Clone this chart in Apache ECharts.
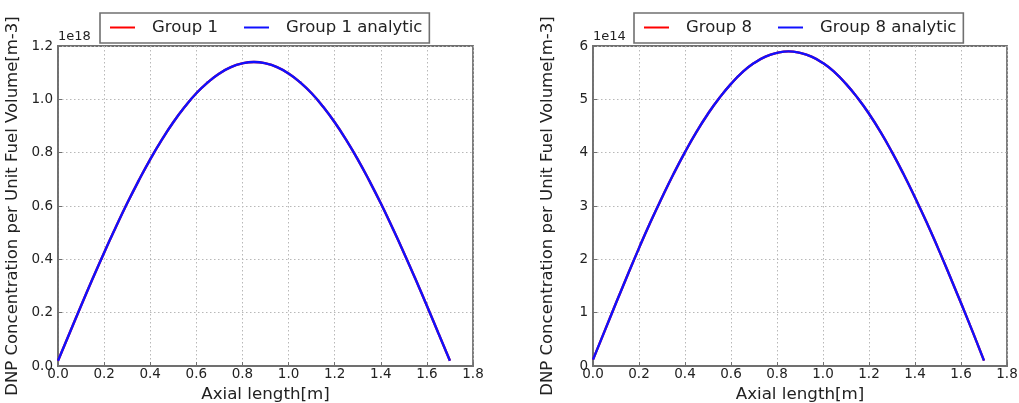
<!DOCTYPE html>
<html>
<head>
<meta charset="utf-8">
<script src="https://cdn.jsdelivr.net/npm/echarts@6/dist/echarts.min.js"></script>
<style>
  html, body { margin: 0; padding: 0; background: #fff; }
  #chart { width: 1019px; height: 403px; }
</style>
</head>
<body>
<div id="chart"></div>
<script>
// Axial positions along the fuel channel [m]
const axialPos = [0.00, 0.05, 0.10, 0.15, 0.20, 0.25, 0.30, 0.35, 0.40, 0.45, 0.50, 0.55,
  0.60, 0.65, 0.70, 0.75, 0.80, 0.85, 0.90, 0.95, 1.00, 1.05, 1.10, 1.15, 1.20, 1.25,
  1.30, 1.35, 1.40, 1.45, 1.50, 1.55, 1.60, 1.65, 1.70];

// Group 1 precursor concentration, units of 1e18 m^-3
const group1 = [0.020, 0.123, 0.226, 0.327, 0.425, 0.519, 0.610, 0.695, 0.775, 0.848, 0.914, 0.972,
  1.023, 1.064, 1.097, 1.121, 1.135, 1.140, 1.135, 1.121, 1.097, 1.064, 1.023, 0.972, 0.914, 0.848,
  0.775, 0.695, 0.610, 0.519, 0.425, 0.327, 0.226, 0.123, 0.020];
const group1Analytic = group1.slice();

// Group 8 precursor concentration, units of 1e14 m^-3
const group8 = [0.12, 0.65, 1.18, 1.70, 2.21, 2.70, 3.16, 3.60, 4.01, 4.39, 4.73, 5.03,
  5.29, 5.51, 5.68, 5.80, 5.87, 5.90, 5.87, 5.80, 5.68, 5.51, 5.29, 5.03, 4.73, 4.39,
  4.01, 3.60, 3.16, 2.70, 2.21, 1.70, 1.18, 0.65, 0.10];
const group8Analytic = group8.slice();

const xTicks = [0.0, 0.2, 0.4, 0.6, 0.8, 1.0, 1.2, 1.4, 1.6, 1.8];

const FONT = 'DejaVu Sans';
const TXT = '#222222';
const FRAME = '#707070';
const GRIDLINE = '#b8b8b8';

const pairs = (xs, ys) => xs.map((x, i) => [x, ys[i]]);

function xAxisFor(gi) {
  return {
    gridIndex: gi, type: 'value', min: 0, max: 1.8, interval: 0.2,
    name: 'Axial length[m]', nameLocation: 'middle', nameGap: 15,
    nameTextStyle: { fontFamily: FONT, fontSize: 16.7, color: TXT },
    axisLine: { show: true, lineStyle: { color: FRAME, width: 1.8 } },
    axisTick: { show: true, inside: true, length: 4, lineStyle: { color: FRAME } },
    axisLabel: { fontFamily: FONT, fontSize: 13.5, color: TXT, margin: 1,
      formatter: v => v.toFixed(1) },
    splitLine: { show: true, lineStyle: { color: GRIDLINE, type: [1.5, 2.5], width: 1 } }
  };
}

function yAxisFor(gi, max, interval, fmt) {
  return {
    gridIndex: gi, type: 'value', min: 0, max: max, interval: interval,
    name: 'DNP Concentration per Unit Fuel Volume[m-3]', nameLocation: 'middle', nameGap: 37,
    nameRotate: 90,
    nameTextStyle: { fontFamily: FONT, fontSize: 16.5, color: TXT },
    axisLine: { show: true, lineStyle: { color: FRAME, width: 1.8 } },
    axisTick: { show: true, inside: true, length: 4, lineStyle: { color: FRAME } },
    axisLabel: { fontFamily: FONT, fontSize: 13.5, color: TXT, margin: 5, formatter: fmt },
    splitLine: { show: true, lineStyle: { color: GRIDLINE, type: [1.5, 2.5], width: 1 } }
  };
}

function lineSeries(name, gi, data, color, z) {
  return {
    name: name, type: 'line', xAxisIndex: gi, yAxisIndex: gi,
    data: data, showSymbol: false, symbol: 'none', smooth: true, z: z,
    lineStyle: { color: color, width: 2.4 }, itemStyle: { color: color }
  };
}

function legendFor(names, left) {
  return {
    data: names, left: left, top: 13, width: 380,
    orient: 'horizontal', icon: 'rect', itemWidth: 25, itemHeight: 2, itemGap: 26,
    padding: [6, 7, 7, 10],
    borderColor: '#707070', borderWidth: 1.6, borderRadius: 0,
    textStyle: { fontFamily: FONT, fontSize: 16.5, color: TXT, padding: [0, 0, 0, 12] }
  };
}

const chart = echarts.init(document.getElementById('chart'), null, { renderer: 'canvas' });
chart.setOption({
  backgroundColor: '#ffffff',
  animation: false,
  grid: [
    { left: 58, top: 46, width: 415, height: 320, outerBoundsMode: 'none', containLabel: false,
      show: true, borderColor: FRAME, borderWidth: 1.8 },
    { left: 593, top: 46, width: 414, height: 320, outerBoundsMode: 'none', containLabel: false,
      show: true, borderColor: FRAME, borderWidth: 1.8 }
  ],
  legend: [
    legendFor(['Group 1', 'Group 1 analytic'], 100),
    legendFor(['Group 8', 'Group 8 analytic'], 634)
  ],
  xAxis: [xAxisFor(0), xAxisFor(1)],
  yAxis: [
    yAxisFor(0, 1.2, 0.2, v => v.toFixed(1)),
    yAxisFor(1, 6, 1, v => String(Math.round(v)))
  ],
  graphic: [
    { type: 'text', left: 58, top: 30, style: { text: '1e18', fontFamily: FONT, fontSize: 13, fill: TXT } },
    { type: 'text', left: 593, top: 30, style: { text: '1e14', fontFamily: FONT, fontSize: 13, fill: TXT } }
  ],
  series: [
    lineSeries('Group 1', 0, pairs(axialPos, group1), '#ff0000', 2),
    lineSeries('Group 1 analytic', 0, pairs(axialPos, group1Analytic), '#1010ff', 3),
    lineSeries('Group 8', 1, pairs(axialPos, group8), '#ff0000', 2),
    lineSeries('Group 8 analytic', 1, pairs(axialPos, group8Analytic), '#1010ff', 3)
  ]
});
</script>
</body>
</html>
